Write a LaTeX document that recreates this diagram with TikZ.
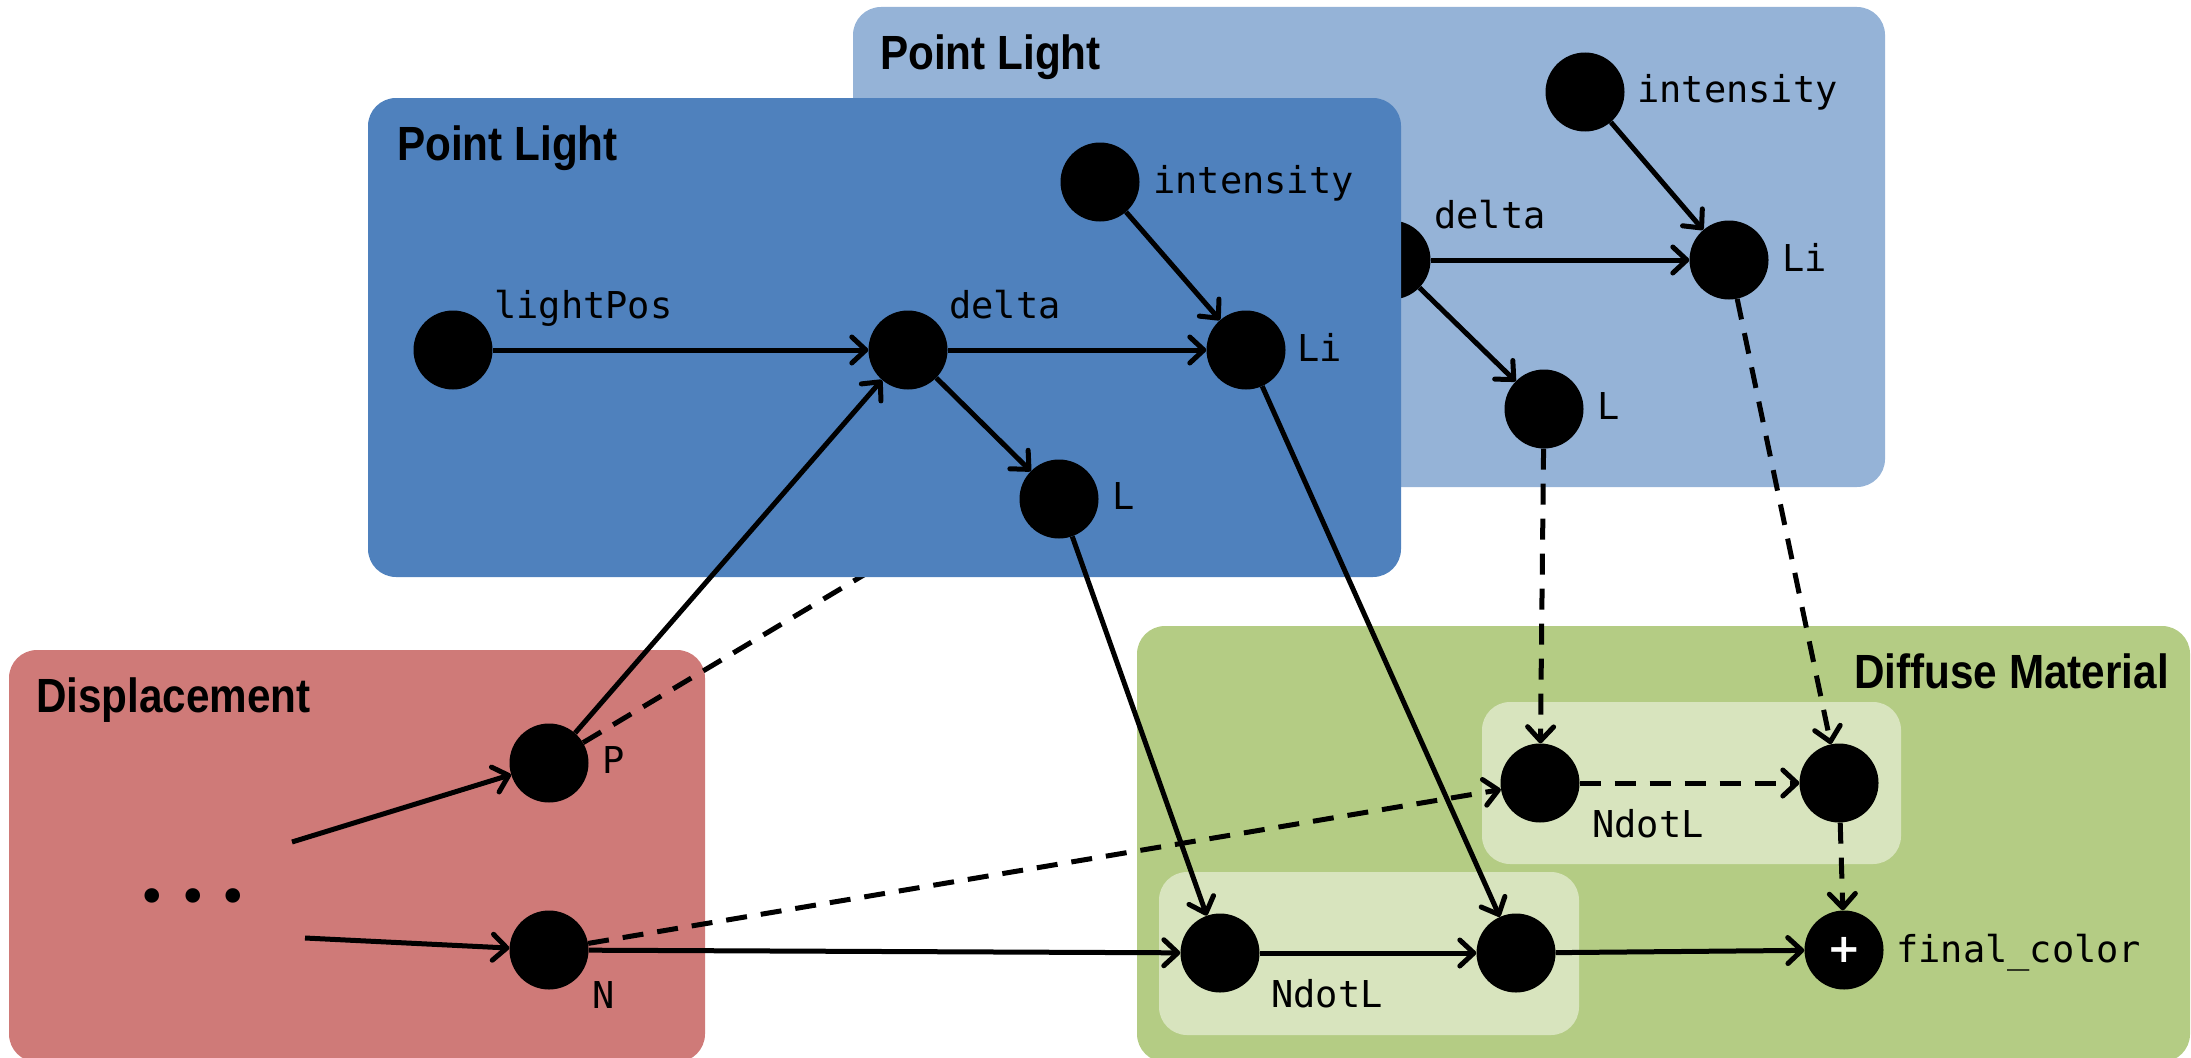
\documentclass[tikz,border=0pt]{standalone}
\usepackage{fontspec}
\usetikzlibrary{arrows.meta,calc}
\newfontfamily\titlefont{Liberation Sans}[FakeStretch=0.88]
\newfontfamily\labfont{DejaVu Sans Mono}
\newfontfamily\symfont{DejaVu Sans}
\definecolor{backblue}{HTML}{95B3D7}
\definecolor{frontblue}{HTML}{4F81BD}
\definecolor{dispred}{HTML}{CF7A78}
\definecolor{diffgreen}{HTML}{B4CC84}
\definecolor{innergreen}{HTML}{D8E4BE}
\begin{document}
\begin{tikzpicture}[x=1pt,y=-1pt,
  dotnode/.style={circle, fill=black, minimum size=79pt, inner sep=0pt},
  lab/.style={font=\labfont\fontsize{37}{40}\selectfont, inner sep=0pt, anchor=base west},
  ttl/.style={font=\titlefont\bfseries\fontsize{48}{52}\selectfont, inner sep=0pt, anchor=base west},
  conn/.style={line width=5pt, -{Straight Barb[length=14pt,width=26pt,round]}},
  dconn/.style={conn, dash pattern=on 21pt off 14pt},
  panel/.style={rounded corners=28pt}
]
\useasboundingbox (0,0) rectangle (2191,1057);
\clip (0,0) rectangle (2191,1057);

% panels
\fill[dispred, panel] (9,650) rectangle (705,1062);
\fill[diffgreen, panel] (1137,626) rectangle (2190,1062);
\fill[innergreen, panel] (1482,702) rectangle (1901,864);
\fill[innergreen, panel] (1159,872) rectangle (1579,1035);
\fill[backblue, panel] (853,7) rectangle (1885,487);

% titles
\node[ttl] (tback) at (880,70) {Point Light};
\node[ttl] (tdisp) at (36,712) {Displacement};
\node[ttl, anchor=base east] (tdiff) at (2169,688) {Diffuse Material};

% back point light
\node[dotnode] (bd) at (1391,260) {};
\node[dotnode] (bi) at (1585,92) {};
\node[dotnode] (bli) at (1729,260) {};
\node[dotnode] (bl) at (1544,409) {};
\node[lab] (bdL) at ($(bd)+(43,-32)$) {delta};
\node[lab] (biL) at ($(bi)+(52,10)$) {intensity};
\node[lab] (bliL) at ($(bli)+(53,11)$) {Li};
\node[lab] (blL) at ($(bl)+(53,10)$) {L};
\draw[conn] (bd) -- (bli);
\draw[conn] (bd) -- (bl);
\draw[conn] (bi) -- (bli);

% displacement
\node[dotnode] (P) at (549,763) {};
\node[dotnode] (N) at (549,950) {};
\node[lab] (PL) at ($(P)+(53,10)$) {P};
\node[lab] (NL) at ($(N)+(43,58)$) {N};
\node[font=\symfont\fontsize{50}{50}\selectfont, inner sep=0pt] (dots) at (193,902) {•\hspace{11pt}•\hspace{11pt}•};
\coordinate (s1) at (292,842);
\coordinate (s2) at (305,938);
\draw[conn] (s1) -- (P);
\draw[conn] (s2) -- (N);
\draw[dconn] (P) -- (bd);

% front point light
\fill[frontblue, panel] (368,98) rectangle (1401,577);
\node[ttl] (tfront) at (397,160) {Point Light};
\node[dotnode] (lp) at (453,350) {};
\node[dotnode] (fd) at (908,350) {};
\node[dotnode] (fi) at (1100,182) {};
\node[dotnode] (fli) at (1246,350) {};
\node[dotnode] (fl) at (1059,499) {};
\node[lab] (lpL) at ($(lp)+(41,-32)$) {lightPos};
\node[lab] (fdL) at ($(fd)+(41,-32)$) {delta};
\node[lab] (fiL) at ($(fi)+(53,11)$) {intensity};
\node[lab] (fliL) at ($(fli)+(51,11)$) {Li};
\node[lab] (flL) at ($(fl)+(53,10)$) {L};
\draw[conn] (lp) -- (fd);
\draw[conn] (fd) -- (fli);
\draw[conn] (fd) -- (fl);
\draw[conn] (fi) -- (fli);
\draw[conn] (P) -- (fd);

% diffuse material
\node[dotnode] (u1) at (1540,783) {};
\node[dotnode] (u2) at (1839,783) {};
\node[dotnode] (d1) at (1220,953) {};
\node[dotnode] (d2) at (1516,953) {};
\node[dotnode, text=white, font=\symfont\bfseries\fontsize{40}{40}\selectfont] (fc) at (1844,950) {+};
\node[lab] (u1L) at ($(u1)+(52,54)$) {NdotL};
\node[lab] (d1L) at ($(d1)+(51,54)$) {NdotL};
\node[lab] (fcL) at ($(fc)+(52,12)$) {final\_color};

\draw[conn] (N) -- (d1);
\draw[dconn] (N) -- (u1);
\draw[conn] (fl) -- (d1);
\draw[conn] (fli) -- (d2);
\draw[dconn] (bl) -- (u1);
\draw[dconn] (bli) -- (u2);
\draw[conn] (d1) -- (d2);
\draw[conn] (d2) -- (fc);
\draw[dconn] (u1) -- (u2);
\draw[dconn] (u2) -- (fc);
\end{tikzpicture}
\end{document}
